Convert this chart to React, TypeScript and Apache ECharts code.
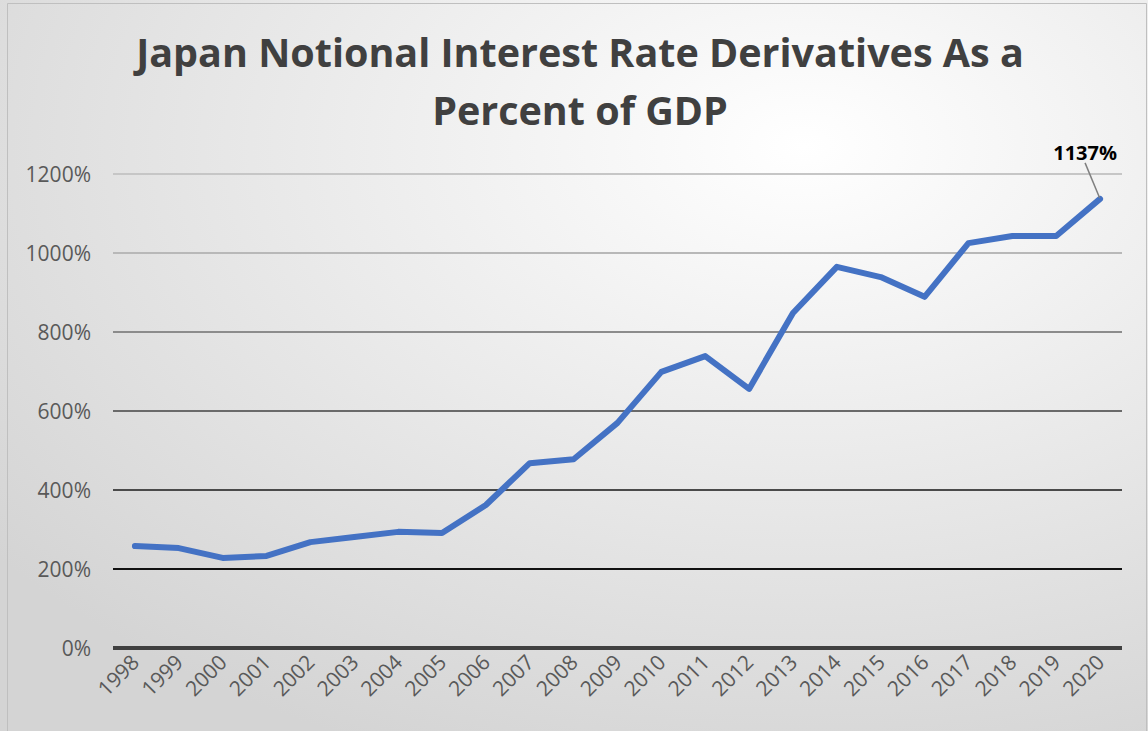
import React, { useEffect, useRef } from "react";
import * as echarts from "echarts";

const years = ["1998","1999","2000","2001","2002","2003","2004","2005","2006","2007","2008","2009","2010","2011","2012","2013","2014","2015","2016","2017","2018","2019","2020"];
const pctOfGdp = [258,253,228,233,268,281,294,291,362,468,478,570,699,739,656,848,965,939,889,1025,1043,1043,1137];
const yTicks = [0, 200, 400, 600, 800, 1000, 1200];
const titleText = "Japan Notional Interest Rate Derivatives As a\nPercent of GDP";

export default function App() {
  const ref = useRef<HTMLDivElement>(null);
  useEffect(() => {
    const chart = echarts.init(ref.current!, null, { renderer: "svg" });
    const lastIdx = pctOfGdp.length - 1;
    chart.setOption({
      animation: false,
      backgroundColor: {
        type: "radial", x: 0.7, y: 0.2, r: 0.9,
        colorStops: [
          { offset: 0, color: "#ffffff" },
          { offset: 1, color: "#d4d4d4" },
        ],
      },
      graphic: [
        { type: "rect", shape: { x: 7.5, y: 3.5, width: 1139, height: 740 }, style: { fill: "none", stroke: "#bfbfbf", lineWidth: 1 }, silent: true },
      ],
      title: {
        text: titleText,
        left: 575,
        textAlign: "center",
        top: 18,
        textStyle: { fontFamily: "Open Sans", fontWeight: "bold", fontSize: 39.5, color: "#404040", lineHeight: 58 },
      },
      grid: { left: 113, right: 26, top: 174, bottom: 83, containLabel: false },
      xAxis: {
        type: "category",
        data: years,
        boundaryGap: true,
        axisLine: { show: false },
        axisTick: { show: false },
        axisLabel: { rotate: 45, fontFamily: "Open Sans", fontSize: 21, color: "#595959", margin: 10, interval: 0 },
      },
      yAxis: {
        type: "value",
        min: 0,
        max: 1200,
        interval: 200,
        axisLine: { show: false },
        axisTick: { show: false },
        axisLabel: { fontFamily: "Open Sans", fontSize: 21, color: "#595959", margin: 22, formatter: (v: number) => v + "%" },
        splitLine: {
          lineStyle: {
            color: ["#404040", "#111111", "#4a4a4a", "#6a6a6a", "#8c8c8c", "#b8b8b8", "#c6c6c6"],
            width: 2,
          },
        },
      },
      series: [
        {
          type: "line",
          data: pctOfGdp.map((v, i) =>
            i === lastIdx
              ? {
                  value: v,
                  label: {
                    show: true,
                    position: "top",
                    distance: 5,
                    padding: [0, 0, 10, 0],
                    formatter: (p: any) => p.value + "%",
                    fontFamily: "Open Sans",
                    fontWeight: "bold",
                    fontSize: 20,
                    color: "#000000",
                  },
                }
              : v
          ),
          showSymbol: true,
          symbol: "circle",
          symbolSize: 2,
          itemStyle: { color: "#4472C4" },
          lineStyle: { color: "#4472C4", width: 6, cap: "round", join: "round" },
          labelLayout: (params: any) => (params.dataIndex === lastIdx ? { dx: -15, dy: -20 } : {}),
          labelLine: { show: true, lineStyle: { color: "#7f7f7f", width: 1.5 } },
          markLine: {
            silent: true,
            symbol: "none",
            label: { show: false },
            lineStyle: { color: "#404040", width: 4, type: "solid" },
            data: [{ yAxis: yTicks[0] }],
          },
        },
      ],
    });
    return () => chart.dispose();
  }, []);
  return <div ref={ref} style={{ position: "absolute", left: 0, top: 0, width: 1148, height: 731 }} />;
}
